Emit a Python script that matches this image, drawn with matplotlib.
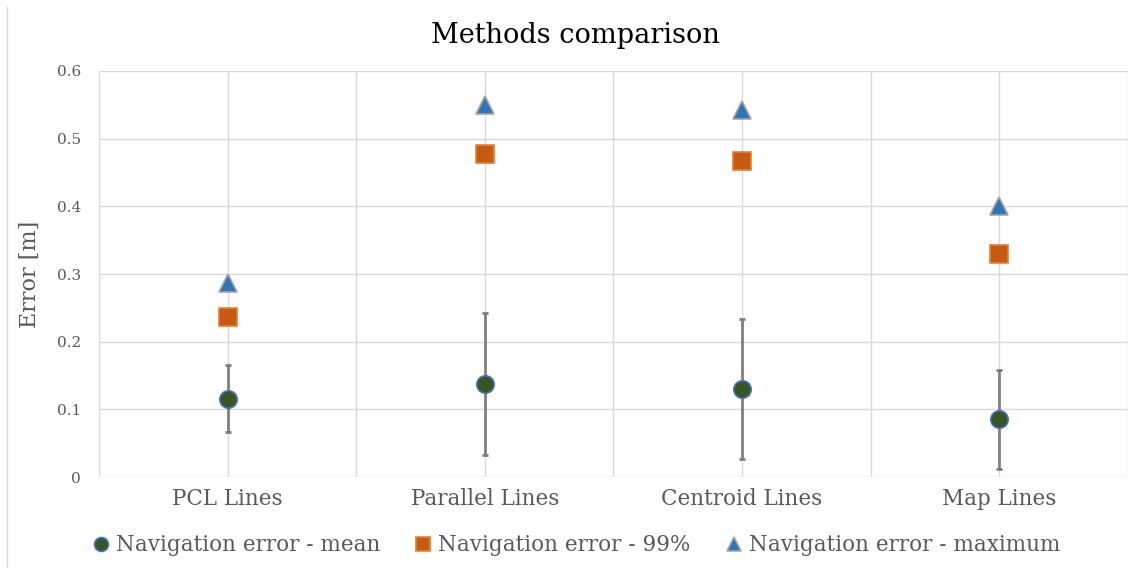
import matplotlib.pyplot as plt
from matplotlib.lines import Line2D
import numpy as np

# ============================================================
# DADOS
# ============================================================

categories = ["PCL Lines", "Parallel Lines", "Centroid Lines", "Map Lines"]
nav_mean = [0.116, 0.137, 0.130, 0.085]
nav_std = [0.049, 0.105, 0.104, 0.073]
nav_p99 = [0.237, 0.477, 0.467, 0.330]
nav_max = [0.286, 0.550, 0.542, 0.400]

y_ticks = [0, 0.1, 0.2, 0.3, 0.4, 0.5, 0.6]
y_tick_labels = ["0", "0.1", "0.2", "0.3", "0.4", "0.5", "0.6"]

# ============================================================
# ESTILO
# ============================================================

FONT = "DejaVu Serif"
GRID = "#D9D9D9"
TEXT = "#595959"

plt.rcParams["font.family"] = FONT

fig = plt.figure(figsize=(11.34, 5.68), dpi=100)
ax = fig.add_axes([0.0873, 0.1602, 0.9074, 0.7148])

x = np.arange(len(categories))

# grade
for gx in np.arange(-0.5, len(categories), 0.5):
    ax.axvline(gx, color=GRID, linewidth=1, zorder=0)
for gy in y_ticks:
    ax.axhline(gy, color=GRID, linewidth=1, zorder=0)

# barras de erro
ax.errorbar(x, nav_mean, yerr=nav_std, fmt="none", ecolor="#7F7F7F",
            elinewidth=2, capsize=2.5, capthick=2, zorder=2)

# séries
ax.plot(x, nav_mean, linestyle="none", marker="o", markersize=12.5,
        markerfacecolor="#375623", markeredgecolor="#4472C4",
        markeredgewidth=1.2, zorder=3, label="Navigation error - mean")
ax.plot(x, nav_p99, linestyle="none", marker="s", markersize=12.5,
        markerfacecolor="#C55A11", markeredgecolor="#ED7D31",
        markeredgewidth=1.2, zorder=3, label="Navigation error - 99%")
ax.plot(x, nav_max, linestyle="none", marker="^", markersize=13,
        markerfacecolor="#2E75B6", markeredgecolor="#A5A5A5",
        markeredgewidth=1.2, zorder=3, label="Navigation error - maximum")

ax.set_xlim(-0.5, len(categories) - 0.5)
ax.set_ylim(0, 0.6)
ax.set_xticks(x)
ax.set_xticklabels(categories, fontsize=15.5, color=TEXT)
ax.set_yticks(y_ticks)
ax.set_yticklabels(y_tick_labels, fontsize=11, color=TEXT)
ax.tick_params(axis="both", length=0)
ax.tick_params(axis="x", pad=8)
ax.tick_params(axis="y", pad=13)

for spine in ax.spines.values():
    spine.set_visible(False)

ax.set_ylabel("Error [m]", fontsize=16, color=TEXT)
ax.yaxis.set_label_coords(-0.0564, 0.5)

fig.text(0.507, 0.938, "Methods comparison", fontsize=19.5,
         color="black", ha="center", va="center")

# legenda
handles, labels = ax.get_legend_handles_labels()
leg = fig.legend(handles, labels, loc="center", bbox_to_anchor=(0.508, 0.040),
                 ncol=3, frameon=False, fontsize=15.5, handlelength=0.8,
                 handletextpad=0.3, columnspacing=1.6, markerscale=0.8)
for t in leg.get_texts():
    t.set_color(TEXT)

# borda esquerda da área do gráfico
fig.add_artist(Line2D([7 / 1134, 7 / 1134], [0, 1 - 7 / 568],
                      transform=fig.transFigure, color=GRID, linewidth=1))

fig.savefig("out.png", dpi=100)
